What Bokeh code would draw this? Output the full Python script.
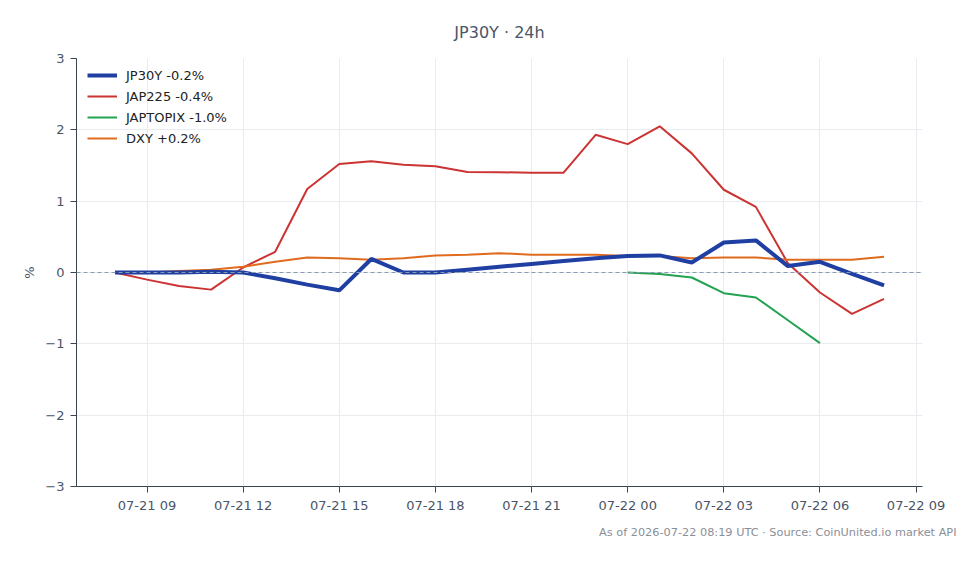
import numpy as np
import pandas as pd
from bokeh.plotting import figure
from bokeh.models import (Range1d, FixedTicker, DatetimeTickFormatter, Span,
                          Legend, LegendItem, Title)
from bokeh.embed import file_html
from bokeh.resources import INLINE

# ---- data ----
times = pd.date_range("2026-07-21 08:00", "2026-07-22 08:00", freq="1h")
jp30y = [0.00, 0.00, 0.00, 0.01, 0.00, -0.08, -0.17, -0.25, 0.19, 0.00, 0.00,
         0.04, 0.08, 0.12, 0.16, 0.20, 0.23, 0.24, 0.14, 0.42, 0.45, 0.09,
         0.15, -0.02, -0.18]
jap225 = [0.00, -0.10, -0.19, -0.24, 0.07, 0.29, 1.17, 1.52, 1.56, 1.51, 1.49,
          1.41, 1.405, 1.40, 1.40, 1.93, 1.80, 2.05, 1.67, 1.16, 0.92, 0.13,
          -0.28, -0.58, -0.37]
japtopix = [None] * 16 + [0.00, -0.02, -0.07, -0.29, -0.35, -0.67, -0.99, None, None]
dxy = [0.00, 0.00, 0.02, 0.04, 0.08, 0.15, 0.21, 0.20, 0.18, 0.20, 0.24, 0.25,
       0.27, 0.25, 0.25, 0.25, 0.23, 0.23, 0.20, 0.21, 0.21, 0.18, 0.18, 0.18, 0.22]
series_names = ["JP30Y -0.2%", "JAP225 -0.4%", "JAPTOPIX -1.0%", "DXY +0.2%"]
colors = ["#1f3fa3", "#cc3333", "#22a352", "#e06b1f"]
widths = [4, 2, 2, 2]
y_ticks = [-3, -2, -1, 0, 1, 2, 3]
y_tick_labels = {-3: "\u22123", -2: "\u22122", -1: "\u22121", 0: "0", 1: "1", 2: "2", 3: "3"}
x_ticks = pd.date_range("2026-07-21 09:00", "2026-07-22 09:00", freq="3h")

FONT = "DejaVu Sans"

t0 = times[0]
t1 = times[-1]
pad = (t1 - t0) * 0.05
p = figure(width=980, height=564, output_backend="svg", toolbar_location=None,
           x_axis_type="datetime",
           x_range=Range1d(t0 - pad, t1 + pad), y_range=Range1d(-3, 3),
           min_border_left=76, min_border_right=58, min_border_top=58,
           min_border_bottom=78, outline_line_color=None,
           background_fill_color="white", border_fill_color="white")

p.title.text = "JP30Y \u00b7 24h"
p.title.align = "center"
p.title.text_font = FONT
p.title.text_font_size = "16px"
p.title.text_font_style = "normal"
p.title.text_color = "#4a5568"
p.title.offset = 0
p.title.standoff = 34

renderers = []
for name, vals, c, w in zip(series_names, [jp30y, jap225, japtopix, dxy], colors, widths):
    arr = np.array([np.nan if v is None else v for v in vals], dtype=float)
    r = p.line(times, arr, line_color=c, line_width=w)
    renderers.append((name, r))

# draw JP30Y on top of the others
p.renderers = [renderers[1][1], renderers[2][1], renderers[3][1], renderers[0][1]]

zero = Span(location=0, dimension="width", line_color="#8a9ab0", line_width=1,
            line_dash="4 3")
p.add_layout(zero)

legend = Legend(items=[LegendItem(label=n, renderers=[r]) for n, r in renderers],
                location=(11, 339), border_line_color=None,
                background_fill_alpha=0.0, label_text_font=FONT,
                label_text_font_size="13px", label_text_color="#222222",
                glyph_width=30, glyph_height=18, label_height=18,
                spacing=3, padding=4, margin=0, label_standoff=9)
p.add_layout(legend)

# axes
p.xaxis.ticker = FixedTicker(ticks=[t.value / 1e6 for t in x_ticks])
p.xaxis.formatter = DatetimeTickFormatter(hours="%m-%d %H", days="%m-%d %H",
                                          minutes="%m-%d %H")
p.yaxis.ticker = FixedTicker(ticks=y_ticks)
p.yaxis.major_label_overrides = y_tick_labels
p.yaxis.axis_label = "%"
for ax in (p.xaxis[0], p.yaxis[0]):
    ax.axis_line_color = "#3a4352"
    ax.major_tick_line_color = "#3a4352"
    ax.major_tick_out = 6
    ax.major_tick_in = 0
    ax.minor_tick_line_color = None
    ax.major_label_text_font = FONT
    ax.major_label_text_font_size = "13px"
    ax.major_label_text_color = "#4a5568"
    ax.axis_label_text_font = FONT
    ax.axis_label_text_font_size = "13px"
    ax.axis_label_text_font_style = "normal"
    ax.axis_label_text_color = "#4a5568"
p.yaxis.major_label_standoff = 6
p.yaxis.axis_label_standoff = 5
p.xaxis.major_label_standoff = 5

p.xgrid.grid_line_color = "#e8ebef"
p.ygrid.grid_line_color = "#e8ebef"

footer = Title(text="As of 2026-07-22 08:19 UTC \u00b7 Source: CoinUnited.io market API",
               align="right", text_font=FONT, text_font_size="11.3px",
               text_font_style="normal", text_color="#8a8f98", offset=-34,
               standoff=16)
p.add_layout(footer, "below")

open("out.html", "w").write(file_html(p, INLINE))
